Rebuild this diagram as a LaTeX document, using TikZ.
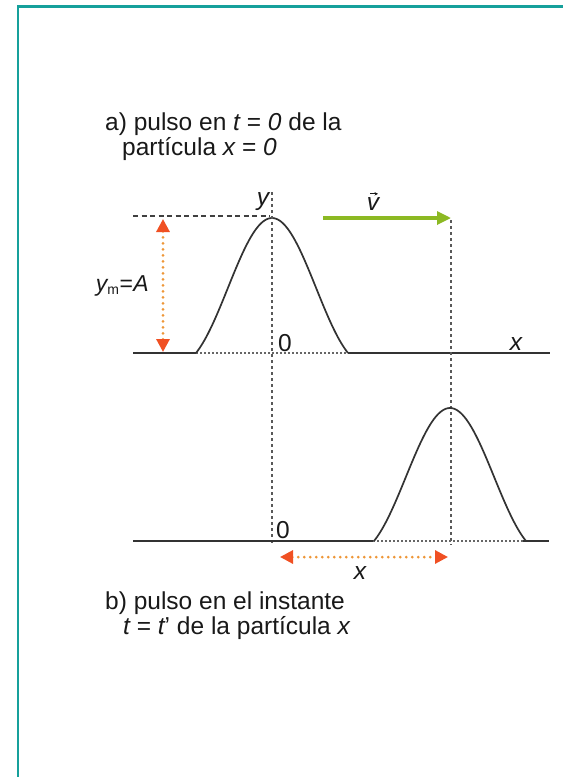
\documentclass[tikz,border=0pt]{standalone}
\usepackage{fontspec}
\setmainfont{Liberation Sans}
\usetikzlibrary{arrows.meta}
\definecolor{frameteal}{RGB}{22,160,155}
\definecolor{vgreen}{RGB}{140,185,35}
\definecolor{orhead}{RGB}{240,80,35}
\definecolor{ordot}{RGB}{238,150,55}
\begin{document}
\begin{tikzpicture}[x=1pt,y=-1pt,
  lbl/.style={font=\fontsize{24.5}{24.5}\selectfont, inner sep=0pt, text=black!90},
  para/.style={font=\fontsize{24.5}{21}\selectfont, inner sep=0pt, text=black!90, align=left},
  solidl/.style={line width=1.7pt, black!80},
  pulse/.style={line width=1.7pt, black!80},
  dotl/.style={line width=1.4pt, black!60, dash pattern=on 1.5pt off 2.5pt},
  dashl/.style={line width=1.5pt, black!75, dash pattern=on 5pt off 3.5pt},
  vdotl/.style={line width=1.8pt, black!65, dash pattern=on 3pt off 3pt},
  orarrow/.style={line width=3pt, ordot, line cap=round, dash pattern=on 0pt off 6pt,
    {Triangle[length=13pt,width=13pt,color=orhead]}-{Triangle[length=13pt,width=13pt,color=orhead]}},
  garrow/.style={line width=3.2pt, vgreen, -{Triangle[length=14pt,width=13pt]}},
  accent/.style={line width=1pt, black!90, -{Stealth[length=3.5pt,width=3.5pt]}}
]
\useasboundingbox (0,0) rectangle (563,777);
\fill[white] (0,0) rectangle (563,777);
% frame
\coordinate (fb) at (18,777);
\coordinate (fc) at (18,6.5);
\coordinate (fr) at (563,6.5);
\draw[frameteal, line width=2.5pt] (fb) -- (fc) -- (fr);

% ---------- top (a) ----------
\coordinate (A0) at (133,353);
\coordinate (A1) at (196,353);
\coordinate (A2) at (348,353);
\coordinate (A3) at (550,353);
\draw[solidl] (A0) -- (A1);
\draw[dotl] (A1) -- (A2);
\draw[solidl] (A2) -- (A3);
\draw[pulse] plot[domain=-76:76,samples=90,smooth]
  ({272+\x},{353-135*(0.45*cos(\x*90/76)+0.55*(cos(\x*90/76))^2)});

% vertical axis through origin
\coordinate (Vt) at (272,192);
\coordinate (Vb) at (272,545);
\draw[vdotl] (Vt) -- (Vb);
% amplitude guide
\coordinate (H0) at (133,216);
\coordinate (H1) at (270,216);
\draw[dashl] (H0) -- (H1);
% amplitude arrow
\coordinate (Aa) at (163,219);
\coordinate (Ab) at (163,352);
\draw[orarrow] (Aa) -- (Ab);
% velocity arrow
\coordinate (G0) at (323,218);
\coordinate (G1) at (451,218);
\draw[garrow] (G0) -- (G1);
% vertical line through crest
\coordinate (C0) at (451,220);
\coordinate (C1) at (451,545);
\draw[vdotl] (C0) -- (C1);

% ---------- bottom (b) ----------
\coordinate (B0) at (133,541);
\coordinate (B1) at (373,541);
\coordinate (B2) at (523,541);
\coordinate (B3) at (549,541);
\draw[solidl] (B0) -- (B1);
\draw[dotl] (B1) -- (B2);
\draw[solidl] (B2) -- (B3);
\draw[pulse] plot[domain=-76:76,samples=90,smooth]
  ({450+\x},{541-133*(0.45*cos(\x*90/76)+0.55*(cos(\x*90/76))^2)});
% displacement arrow
\coordinate (Da) at (280,557);
\coordinate (Db) at (448,557);
\draw[orarrow] (Da) -- (Db);

% ---------- labels ----------
\node[para, anchor=base west] (ta) at (105,155) {a) pulso en {\itshape t} = {\itshape 0} de la\\\hspace*{17pt}partícula {\itshape x} = {\itshape 0}};
\node[lbl] (ly) at (263,202) {\itshape y};
\node[lbl] (lv) at (373,204) {\itshape v};
\coordinate (va) at ([xshift=-3pt,yshift=3.5pt]lv.north);
\coordinate (vb) at ([xshift=5pt,yshift=3.5pt]lv.north);
\draw[accent] (va) -- (vb);
\node[lbl, anchor=east, font=\fontsize{23}{23}\selectfont] (lA) at (149,286) {{\itshape y}{\fontsize{14}{14}\selectfont\raisebox{-3pt}{m}}\kern0.5pt={\kern0.5pt\itshape A}};
\node[lbl] (l0a) at (285,343) {0};
\node[lbl] (lxa) at (516,344) {\itshape x};
\node[lbl] (l0b) at (283,530) {0};
\node[lbl] (lxb) at (360,573) {\itshape x};
\node[para, anchor=base west] (tb) at (105,634) {b) pulso en el instante\\\hspace*{18pt}{\itshape t} = {\itshape t}' de la partícula {\itshape x}};
\end{tikzpicture}
\end{document}
